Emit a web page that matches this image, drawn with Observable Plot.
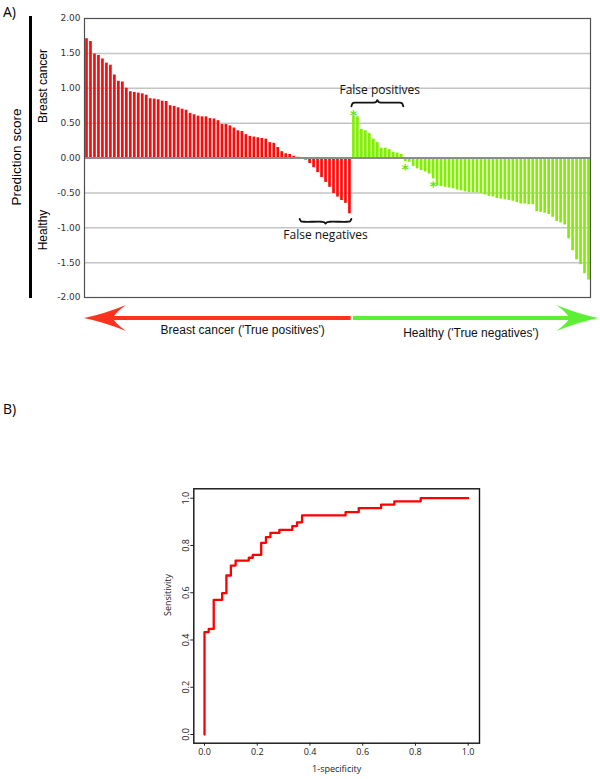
<!DOCTYPE html>
<html><head><meta charset="utf-8">
<script src="https://cdn.jsdelivr.net/npm/d3@7"></script>
<script src="https://cdn.jsdelivr.net/npm/@observablehq/plot@0.6"></script>
<style>
html,body{margin:0;padding:0;background:#fff;}
#root{position:relative;width:600px;height:779px;overflow:hidden;font-family:"Liberation Sans",Arial,sans-serif;color:#000;}
.abs{position:absolute;white-space:nowrap;line-height:1;}
.rot{transform:translate(-50%,-50%) rotate(-90deg);}
</style></head><body><div id="root"></div>
<script>
// ---------- Panel A data ----------
const cancerScores = [1.71, 1.67, 1.49, 1.47, 1.42, 1.36, 1.33, 1.19, 1.10, 1.09,
  1.00, 0.95, 0.94, 0.93, 0.92, 0.90, 0.85, 0.845, 0.835, 0.815,
  0.81, 0.75, 0.74, 0.72, 0.70, 0.685, 0.64, 0.62, 0.60, 0.59,
  0.59, 0.565, 0.56, 0.535, 0.48, 0.48, 0.46, 0.43, 0.39, 0.38,
  0.335, 0.31, 0.30, 0.29, 0.28, 0.27, 0.22, 0.21, 0.15, 0.09,
  0.06, 0.05, 0.025, 0.01, -0.01, -0.03, -0.08, -0.14, -0.21, -0.28,
  -0.35, -0.42, -0.51, -0.56, -0.61, -0.65, -0.80];
const healthyScores = [0.60, 0.59, 0.41, 0.39, 0.35, 0.27, 0.22, 0.14, 0.14, 0.12,
  0.08, 0.07, 0.05, -0.05, -0.06, -0.12, -0.155, -0.18, -0.20, -0.23,
  -0.30, -0.40, -0.41, -0.42, -0.43, -0.44, -0.46, -0.47, -0.485, -0.495,
  -0.50, -0.50, -0.51, -0.53, -0.55, -0.56, -0.58, -0.59, -0.60, -0.61,
  -0.62, -0.64, -0.66, -0.66, -0.67, -0.67, -0.77, -0.78, -0.79, -0.81,
  -0.85, -0.91, -0.93, -0.96, -1.16, -1.33, -1.46, -1.53, -1.66, -1.75];
const markedHealthy = [1, 14, 21]; // healthy samples flagged with an asterisk
const scoreTicks = [2, 1.5, 1, 0.5, 0, -0.5, -1, -1.5, -2];
const gridTicks = [1.5, 1, 0.5, -0.5, -1, -1.5];
const groupLabels = ["Breast cancer ('True positives')", "Healthy ('True negatives')"];
const errorLabels = ["False positives", "False negatives"];

// ---------- Panel B data (ROC step points) ----------
const rocFpr = [0, 0.016, 0.035, 0.067, 0.083, 0.100, 0.118, 0.168, 0.183, 0.215, 0.233,
  0.250, 0.284, 0.333, 0.351, 0.370, 0.535, 0.585, 0.670, 0.720, 0.820, 1.000];
const rocTpr = [0, 0.433, 0.447, 0.570, 0.598, 0.673, 0.715, 0.736, 0.748, 0.760, 0.811,
  0.835, 0.853, 0.866, 0.882, 0.898, 0.927, 0.941, 0.958, 0.973, 0.987, 1.000];
const rocTicks = [0, 0.2, 0.4, 0.6, 0.8, 1.0];

// ---------- derived ----------
const nRed = cancerScores.length, nGreen = healthyScores.length, N = nRed + nGreen;
const RED = "#ff0a0a", GREEN = "#80f000";
const redBars = cancerScores.map((v, k) => ({i: k + 1, v}));
const greenBars = healthyScores.map((v, k) => ({i: nRed + k + 1, v}));
const stars = markedHealthy.map(k => {
  const v = healthyScores[k - 1];
  return {i: nRed + k, y: v + (v >= 0 ? 0.055 : -0.07)};
});
const fp = greenBars.filter(d => d.v > 0);
const fn = redBars.filter(d => d.v < 0);
const braceShape = [[0,0],[0.025,0.5],[0.08,0.6],[0.42,0.6],[0.475,0.7],[0.5,1],[0.525,0.7],[0.58,0.6],[0.92,0.6],[0.975,0.5],[1,0]];
function brace(x0, x1, y0, h, id) {
  return braceShape.map(([t, f]) => ({x: x0 + t * (x1 - x0), y: y0 + f * h, id}));
}
const fpY0 = d3.max(fp, d => d.v) + 0.14, fnY0 = d3.min(fn, d => d.v) - 0.072;
const fpH = 0.09, fnH = -0.07;
const fpBrace = brace(fp[0].i - 0.5, fp[fp.length - 1].i + 0.5, fpY0, fpH, "fp");
const fnBrace = brace(fn[0].i - 0.5, fn[fn.length - 1].i + 0.5, fnY0, fnH, "fn");
const fpLabel = [{x: (fp[0].i + fp[fp.length - 1].i) / 2 + 0.6, y: fpY0 + fpH, text: errorLabels[0]}];
const fnLabel = [{x: (fn[0].i + fn[fn.length - 1].i) / 2, y: fnY0 + fnH, text: errorLabels[1]}];
const pxPerIndex = 506 / N;
const redTip = 0.35, greenTip = N + 2.47;
const headBack = 25 / pxPerIndex;
const shafts = [
  {x1: nRed + 0.44, x2: redTip + headBack, color: "#ff321e"},
  {x1: nRed + 1.0, x2: greenTip - headBack, color: "#5cf034"}
];
const leftHead = {draw(ctx) {
  ctx.moveTo(0, 0);
  ctx.quadraticCurveTo(20, -4, 42, -13);
  ctx.quadraticCurveTo(31, -5, 29, 0);
  ctx.quadraticCurveTo(31, 5, 42, 13);
  ctx.quadraticCurveTo(20, 4, 0, 0);
  ctx.closePath();
}};
const rightHead = {draw(ctx) {
  ctx.moveTo(0, 0);
  ctx.quadraticCurveTo(-20, -4, -42, -13);
  ctx.quadraticCurveTo(-31, -5, -29, 0);
  ctx.quadraticCurveTo(-31, 5, -42, 13);
  ctx.quadraticCurveTo(-20, 4, 0, 0);
  ctx.closePath();
}};

const root = document.getElementById("root");
function addDiv(html, css, cls) {
  const d = document.createElement("div");
  d.className = "abs" + (cls ? " " + cls : "");
  d.innerHTML = html;
  Object.assign(d.style, css);
  root.appendChild(d);
  return d;
}

// ---------- Panel A ----------
const chartA = Plot.plot({
  width: 600, height: 345,
  marginLeft: 84, marginRight: 10, marginTop: 18, marginBottom: 48,
  style: {fontFamily: "'Liberation Sans', Arial, sans-serif", fontSize: "12px", background: "transparent", overflow: "visible"},
  x: {type: "linear", domain: [0.5, N + 0.5], axis: null},
  y: {domain: [-2, 2], axis: null},
  color: {type: "identity"},
  marks: [
    Plot.ruleY(gridTicks, {stroke: "#c4c4c4", strokeWidth: 1.5}),
    Plot.ruleX(redBars, {x: "i", y1: 0, y2: "v", stroke: RED, strokeWidth: 2.7}),
    Plot.ruleX(greenBars, {x: "i", y1: 0, y2: "v", stroke: GREEN, strokeWidth: 2.7}),
    Plot.ruleY([0], {stroke: "#8c8c8c", strokeWidth: 1.8}),
    Plot.frame({stroke: "#505050", strokeWidth: 1.2}),
    Plot.axisY(scoreTicks, {tickSize: 0, tickPadding: 4, tickFormat: d => d.toFixed(2), fontSize: 9, fontFamily: "DejaVu Sans", color: "#333", label: null}),
    Plot.text(stars, {x: "i", y: "y", text: () => "*", fill: "#55e82a", fontSize: 14, fontWeight: "bold", dy: 3, fontFamily: "DejaVu Sans"}),
    Plot.line([...fpBrace, ...fnBrace], {x: "x", y: "y", z: "id", curve: "catmull-rom", stroke: "#111", strokeWidth: 1.8}),
    Plot.text(fpLabel, {x: "x", y: "y", text: "text", dy: -10, fontFamily: "Open Sans", fontSize: 12, fill: "#111"}),
    Plot.text(fnLabel, {x: "x", y: "y", text: "text", dy: 11, fontFamily: "Open Sans", fontSize: 12, fill: "#111"}),
    Plot.ruleY(shafts, {x1: "x1", x2: "x2", y: () => -2, dy: 20.6, stroke: "color", strokeWidth: 4}),
    Plot.dot([redTip], {x: d => d, y: () => -2, dy: 20.6, symbol: leftHead, r: 5, fill: "#ff321e", stroke: "none"}),
    Plot.dot([greenTip], {x: d => d, y: () => -2, dy: 20.6, symbol: rightHead, r: 5, fill: "#5cf034", stroke: "none"}),
    Plot.text([groupLabels[0]], {x: () => nRed * 0.6, y: () => -2, dy: 33, text: d => d, fontSize: 12, fill: "#111"}),
    Plot.text([groupLabels[1]], {x: () => nRed + nGreen * 0.5 + 0.5, y: () => -2, dy: 35.5, text: d => d, fontSize: 12, fill: "#111"})
  ]
});
chartA.style.position = "absolute"; chartA.style.left = "0px"; chartA.style.top = "0px";
root.appendChild(chartA);

addDiv("A)", {left: "3px", top: "5px", fontFamily: "'Open Sans'", fontSize: "14px"});
addDiv("Prediction score", {left: "17px", top: "157px", fontSize: "13.5px"}, "rot");
addDiv("", {left: "29px", top: "16px", width: "3px", height: "282px", background: "#000"});
addDiv("Breast cancer", {left: "43px", top: "86px", fontSize: "12px"}, "rot");
addDiv("Healthy", {left: "43px", top: "230px", fontSize: "12px"}, "rot");

// ---------- Panel B ----------
const roc = rocFpr.map((x, k) => ({fpr: x, tpr: rocTpr[k]}));
const chartB = Plot.plot({
  width: 600, height: 339,
  marginLeft: 193.3, marginRight: 121, marginTop: 48.3, marginBottom: 36.3,
  style: {fontFamily: "'Open Sans', sans-serif", fontSize: "9px", background: "transparent", overflow: "visible", color: "#222"},
  x: {domain: [-0.0406, 1.043], axis: null},
  y: {domain: [-0.0368, 1.0398], axis: null},
  marks: [
    Plot.frame({stroke: "#111", strokeWidth: 1.4}),
    Plot.line(roc, {x: "fpr", y: "tpr", curve: "step-before", stroke: "#ff0000", strokeWidth: 2.3}),
    Plot.axisX(rocTicks, {tickSize: 3, tickPadding: 2, tickFormat: d => d.toFixed(1), fontSize: 9, color: "#222", label: null}),
    Plot.axisY(rocTicks, {tickSize: 3, tickPadding: 2, tickRotate: -90, tickFormat: d => d.toFixed(1), fontSize: 9, color: "#222", label: null}),
    Plot.text(["1-specificity"], {frameAnchor: "bottom", dy: 28.3, text: d => d, fontSize: 9, fill: "#222"}),
    Plot.text(["Sensitivity"], {frameAnchor: "left", dx: -25.3, rotate: -90, text: d => d, fontSize: 9, fill: "#222"})
  ]
});
chartB.style.position = "absolute"; chartB.style.left = "0px"; chartB.style.top = "440px";
root.appendChild(chartB);
addDiv("B)", {left: "3px", top: "402px", fontFamily: "'Open Sans'", fontSize: "14px"});
</script></body></html>
